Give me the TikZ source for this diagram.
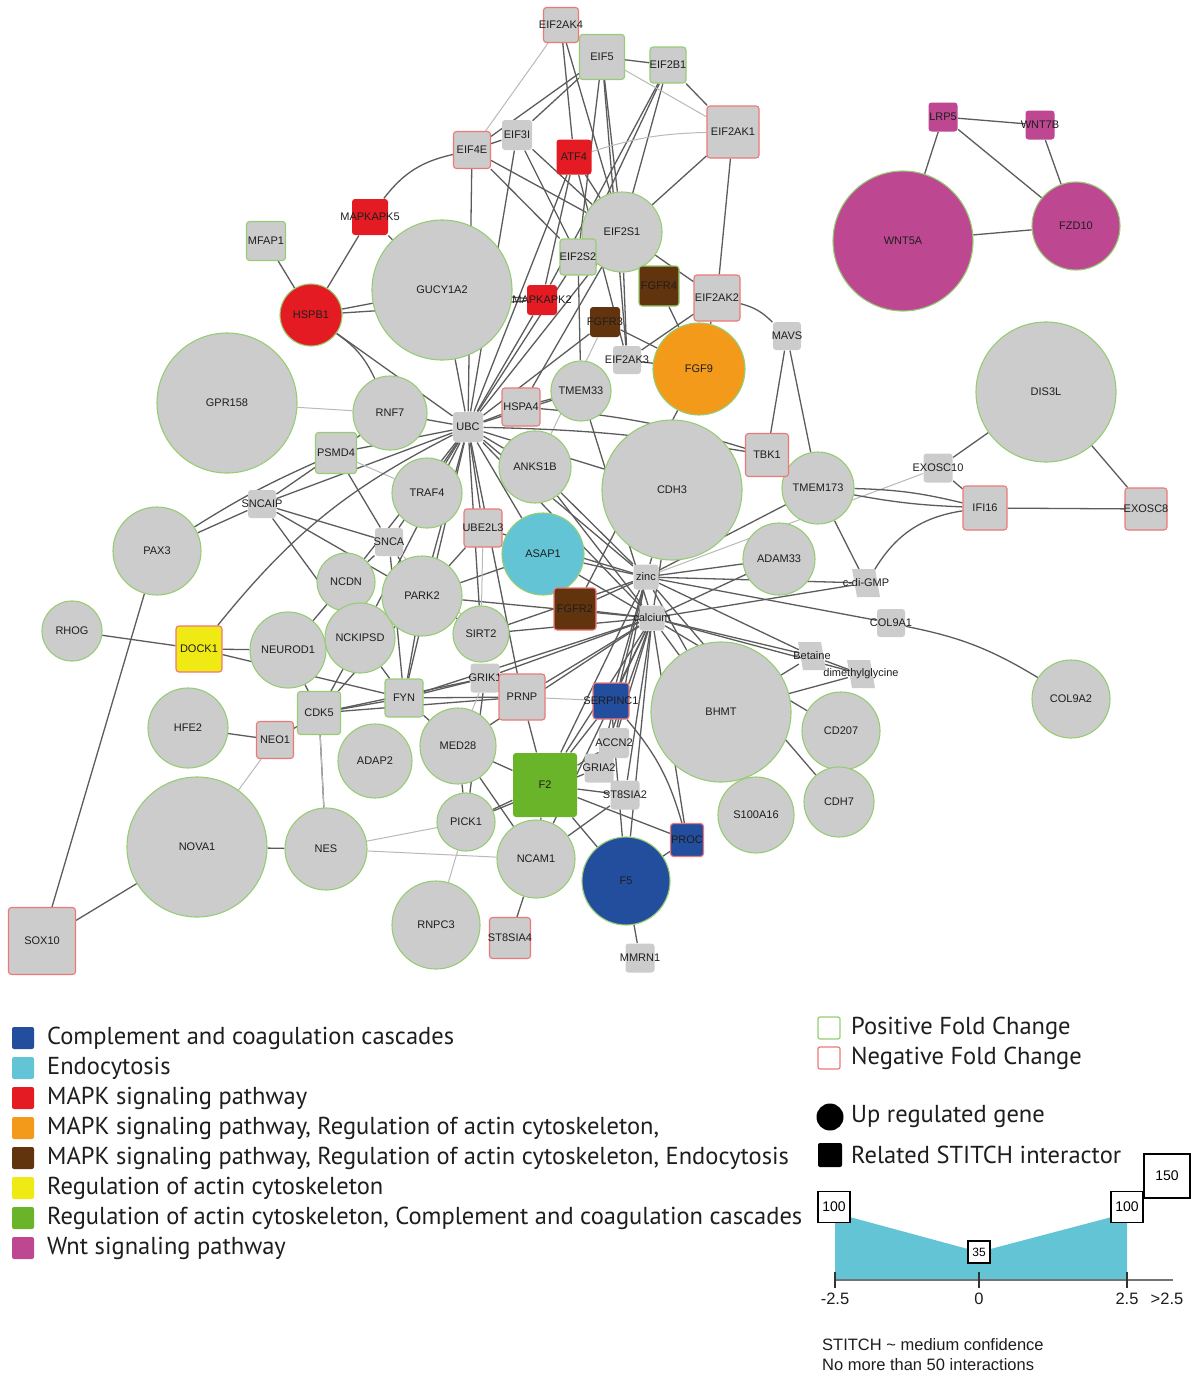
\documentclass[tikz,border=0pt]{standalone}
\usepackage{fontspec}
\setmainfont{Liberation Sans}
\newfontfamily\legendfont{PT Sans}
\usetikzlibrary{backgrounds}

\definecolor{nodegray}{RGB}{204,204,204}
\definecolor{posgreen}{RGB}{150,205,115}
\definecolor{negred}{RGB}{238,120,120}
\definecolor{edgecol}{RGB}{92,92,92}
\definecolor{edgelight}{RGB}{185,185,185}
\definecolor{ccblue}{RGB}{35,78,158}
\definecolor{endocyan}{RGB}{99,196,214}
\definecolor{mapkred}{RGB}{228,27,35}
\definecolor{mapkorange}{RGB}{243,154,26}
\definecolor{mapkbrown}{RGB}{98,52,13}
\definecolor{actinyellow}{RGB}{240,234,20}
\definecolor{actingreen}{RGB}{106,180,42}
\definecolor{wntmagenta}{RGB}{189,72,145}
\definecolor{labelgray}{RGB}{30,30,30}

% gene labels may overflow their shapes, so they take no width
\newcommand\glab[1]{\makebox[0pt][c]{#1}}

\tikzset{
  gene/.style={circle, draw=posgreen, line width=1.1pt, fill=nodegray, inner sep=0pt,
    minimum size=#1, font=\fontsize{11}{12}\selectfont, text=labelgray},
  box/.style={rectangle, rounded corners=3pt, fill=nodegray, draw=none, line width=1.1pt,
    inner sep=0pt, minimum size=#1, font=\fontsize{11}{12}\selectfont, text=labelgray},
  posfc/.style={draw=posgreen},
  negfc/.style={draw=negred},
  % small compounds: the slanted body is filled on the "bodies" layer
  cmpd/.style={rectangle, inner sep=0pt, minimum size=26,
    font=\fontsize{11}{12}\selectfont, text=labelgray},
  ed/.style={draw=edgecol, line width=1.3pt},
  edl/.style={draw=edgelight, line width=1pt},
  legsq/.style={rectangle, rounded corners=2pt, minimum size=22, inner sep=0pt},
  legtxt/.style={anchor=west, inner sep=0pt, font=\legendfont\fontsize{24.5}{26}\selectfont, text=labelgray},
  valbox/.style={rectangle, draw=black, fill=white, line width=1.3pt, inner sep=0pt,
    minimum width=32, minimum height=31, font=\fontsize{14}{15}\selectfont},
  axtxt/.style={inner sep=0pt, font=\fontsize{16.5}{17}\selectfont, text=labelgray},
}

\pgfdeclarelayer{paper}
\pgfdeclarelayer{bodies}
\pgfsetlayers{paper,background,bodies,main}

\begin{document}
\begin{tikzpicture}[x=1pt,y=-1pt]
\useasboundingbox (0,0) rectangle (1194,1376);
\begin{pgfonlayer}{paper}
  \fill[white] (0,0) rectangle (1194,1376);
\end{pgfonlayer}

% ---------- up-regulated genes (circles)
\node[gene=140] (gucy) at (442,290) {\glab{GUCY1A2}};
\node[gene=62, fill=mapkred] (hspb1) at (311,315) {\glab{HSPB1}};
\node[gene=80] (eif2s1) at (622,232) {\glab{EIF2S1}};
\node[gene=140] (gpr158) at (227,403) {\glab{GPR158}};
\node[gene=74] (rnf7) at (390,413) {\glab{RNF7}};
\node[gene=88] (pax3) at (157,551) {\glab{PAX3}};
\node[gene=60] (rhog) at (72,631) {\glab{RHOG}};
\node[gene=58] (ncdn) at (346,582) {\glab{NCDN}};
\node[gene=76] (neurod1) at (288,650) {\glab{NEUROD1}};
\node[gene=70] (nckipsd) at (360,638) {\glab{NCKIPSD}};
\node[gene=70] (traf4) at (427,493) {\glab{TRAF4}};
\node[gene=80] (park2) at (422,596) {\glab{PARK2}};
\node[gene=56] (sirt2) at (481,634) {\glab{SIRT2}};
\node[gene=72] (anks1b) at (535,467) {\glab{ANKS1B}};
\node[gene=60] (tmem33) at (581,391) {\glab{TMEM33}};
\node[gene=82, fill=endocyan] (asap1) at (543,554) {\glab{ASAP1}};
\node[gene=140] (cdh3) at (672,490) {\glab{CDH3}};
\node[gene=92, fill=mapkorange] (fgf9) at (699,369) {\glab{FGF9}};
\node[gene=72] (adam33) at (779,559) {\glab{ADAM33}};
\node[gene=72] (tmem173) at (818,488) {\glab{TMEM173}};
\node[gene=140] (dis3l) at (1046,392) {\glab{DIS3L}};
\node[gene=140, fill=wntmagenta] (wnt5a) at (903,241) {\glab{WNT5A}};
\node[gene=88, fill=wntmagenta] (fzd10) at (1076,226) {\glab{FZD10}};
\node[gene=140] (bhmt) at (721,712) {\glab{BHMT}};
\node[gene=78] (cd207) at (841,731) {\glab{CD207}};
\node[gene=70] (cdh7) at (839,802) {\glab{CDH7}};
\node[gene=78] (col9a2) at (1071,699) {\glab{COL9A2}};
\node[gene=76] (s100a16) at (756,815) {\glab{S100A16}};
\node[gene=76] (med28) at (458,746) {\glab{MED28}};
\node[gene=58] (pick1) at (466,822) {\glab{PICK1}};
\node[gene=78] (ncam1) at (536,859) {\glab{NCAM1}};
\node[gene=88, fill=ccblue] (f5) at (626,881) {\glab{F5}};
\node[gene=88] (rnpc3) at (436,925) {\glab{RNPC3}};
\node[gene=140] (nova1) at (197,847) {\glab{NOVA1}};
\node[gene=82] (nes) at (326,849) {\glab{NES}};
\node[gene=80] (hfe2) at (188,728) {\glab{HFE2}};
\node[gene=74] (adap2) at (375,761) {\glab{ADAP2}};

% ---------- STITCH interactors (squares)
\node[box=35, negfc] (eif2ak4) at (561,25) {\glab{EIF2AK4}};
\node[box=45, posfc] (eif5) at (602,57) {\glab{EIF5}};
\node[box=36, posfc] (eif2b1) at (668,65) {\glab{EIF2B1}};
\node[box=52, negfc] (eif2ak1) at (733,132) {\glab{EIF2AK1}};
\node[box=30] (eif3i) at (517,135) {\glab{EIF3I}};
\node[box=37, negfc] (eif4e) at (472,150) {\glab{EIF4E}};
\node[box=35, fill=mapkred] (atf4) at (574,157) {\glab{ATF4}};
\node[box=36, posfc] (eif2s2) at (578,257) {\glab{EIF2S2}};
\node[box=40, fill=mapkbrown, posfc] (fgfr4) at (659,286) {\glab{FGFR4}};
\node[box=46, negfc] (eif2ak2) at (717,298) {\glab{EIF2AK2}};
\node[box=30, fill=mapkred] (mapkapk2) at (542,300) {\glab{MAPKAPK2}};
\node[box=30, fill=mapkbrown] (fgfr3) at (605,322) {\glab{FGFR3}};
\node[box=36, fill=mapkred] (mapkapk5) at (370,217) {\glab{MAPKAPK5}};
\node[box=39, posfc] (mfap1) at (266,241) {\glab{MFAP1}};
\node[box=29, fill=wntmagenta] (lrp5) at (943,117) {\glab{LRP5}};
\node[box=29, fill=wntmagenta] (wnt7b) at (1040,125) {\glab{WNT7B}};
\node[box=28] (mavs) at (787,336) {\glab{MAVS}};
\node[box=28] (eif2ak3) at (627,360) {\glab{EIF2AK3}};
\node[box=38, negfc] (hspa4) at (521,407) {\glab{HSPA4}};
\node[box=30] (ubc) at (468,427) {\glab{UBC}};
\node[box=41, posfc] (psmd4) at (336,453) {\glab{PSMD4}};
\node[box=28] (sncaip) at (262,504) {\glab{SNCAIP}};
\node[box=28] (snca) at (389,542) {\glab{SNCA}};
\node[box=38, negfc] (ube2l3) at (483,528) {\glab{UBE2L3}};
\node[box=43, negfc] (tbk1) at (767,455) {\glab{TBK1}};
\node[box=42, fill=mapkbrown, negfc] (fgfr2) at (575,609) {\glab{FGFR2}};
\node[box=25] (zinc) at (646,577) {\glab{zinc}};
\node[box=25] (calcium) at (652,618) {\glab{calcium}};
\node[box=29] (exosc10) at (938,468) {\glab{EXOSC10}};
\node[box=44, negfc] (ifi16) at (985,508) {\glab{IFI16}};
\node[box=42, negfc] (exosc8) at (1146,509) {\glab{EXOSC8}};
\node[cmpd] (cdigmp) at (866,583) {\glab{c-di-GMP}};
\node[box=28] (col9a1) at (891,623) {\glab{COL9A1}};
\node[cmpd] (betaine) at (812,656) {\glab{Betaine}};
\node[cmpd] (dmg) at (861,674) {\glab{dimethylglycine}};
\node[box=46, fill=actinyellow, negfc] (dock1) at (199,649) {\glab{DOCK1}};
\node[box=43, posfc] (cdk5) at (319,713) {\glab{CDK5}};
\node[box=37, negfc] (neo1) at (275,740) {\glab{NEO1}};
\node[box=67, negfc] (sox10) at (42,941) {\glab{SOX10}};
\node[box=38, posfc] (fyn) at (404,698) {\glab{FYN}};
\node[box=29] (grik1) at (485,678) {\glab{GRIK1}};
\node[box=46, negfc] (prnp) at (522,697) {\glab{PRNP}};
\node[box=36, fill=ccblue, negfc] (serpinc1) at (611,701) {\glab{SERPINC1}};
\node[box=30] (accn2) at (614,743) {\glab{ACCN2}};
\node[box=29] (gria2) at (599,768) {\glab{GRIA2}};
\node[box=29] (st8sia2) at (625,795) {\glab{ST8SIA2}};
\node[box=64, fill=actingreen] (f2) at (545,785) {\glab{F2}};
\node[box=33, fill=ccblue, negfc] (proc) at (687,840) {\glab{PROC}};
\node[box=41, negfc] (st8sia4) at (510,938) {\glab{ST8SIA4}};
\node[box=29] (mmrn1) at (640,958) {\glab{MMRN1}};

% slanted bodies of the small compounds
\begin{pgfonlayer}{bodies}
\foreach \n in {cdigmp, betaine, dmg}
  \fill[nodegray] ([xshift=-14pt, yshift=14pt]\n.center) -- ([xshift=9pt, yshift=14pt]\n.center)
    -- ([xshift=14pt, yshift=-14pt]\n.center) -- ([xshift=-9pt, yshift=-14pt]\n.center) -- cycle;
\end{pgfonlayer}

% ---------- interactions (behind the nodes)
\begin{pgfonlayer}{background}
\foreach \a/\b in {lrp5/wnt7b, lrp5/wnt5a, lrp5/fzd10, wnt7b/fzd10, wnt5a/fzd10,
  dis3l/exosc10, dis3l/exosc8, ifi16/exosc8, exosc10/ifi16, tmem173/cdigmp, tmem173/mavs,
  tbk1/tmem173, mavs/tbk1, col9a1/zinc, betaine/bhmt, dmg/bhmt, betaine/dmg, betaine/zinc,
  betaine/calcium, dmg/calcium, cdigmp/zinc, cdigmp/calcium, cd207/calcium, cdh7/zinc,
  adam33/zinc, adam33/calcium, cdh3/zinc, cdh3/calcium, tmem173/zinc, bhmt/zinc, bhmt/calcium,
  eif2ak4/eif5, eif2ak4/eif2s1, eif2ak4/atf4,
  eif5/eif2b1, eif5/eif3i, eif5/eif4e, eif5/eif2s1, eif5/eif2s2, eif5/eif2ak3,
  eif2b1/eif2ak1, eif2b1/eif2s1, eif2b1/eif2s2, eif2b1/mapkapk2,
  eif2ak1/eif2s1, eif2ak1/eif2ak2,
  eif3i/eif4e, eif3i/eif2s1, eif3i/eif2s2, eif3i/ubc,
  eif4e/eif2s1, eif4e/eif2s2, eif4e/ubc,
  atf4/eif2s1, atf4/mapkapk2, atf4/ubc, atf4/eif2ak3,
  eif2s1/eif2s2, eif2s1/eif2ak2, eif2s1/eif2ak3, eif2s1/ubc, eif2s1/fgfr4,
  eif2ak2/fgf9, eif2ak2/eif2ak3,
  mapkapk5/hspb1, mapkapk5/gucy, mfap1/hspb1, hspb1/gucy, hspb1/ubc, hspb1/mapkapk2,
  gucy/ubc, gucy/mapkapk2,
  rnf7/ubc, psmd4/ubc, psmd4/rnf7, psmd4/snca, psmd4/sncaip, pax3/sncaip,
  sncaip/ubc, sncaip/snca, sncaip/park2, sncaip/nckipsd,
  snca/ubc, snca/park2, snca/ncdn, snca/fyn,
  dock1/rhog, dock1/neurod1, dock1/fyn,
  ncdn/neurod1, ncdn/ubc, nckipsd/park2, nckipsd/ubc, nckipsd/fyn,
  traf4/ubc, park2/ubc, park2/sirt2, park2/fyn, park2/cdk5, park2/ube2l3, park2/calcium,
  sirt2/ubc, sirt2/calcium, sirt2/zinc, ube2l3/ubc, ube2l3/zinc,
  cdk5/fyn, cdk5/nes, cdk5/neo1, cdk5/neurod1, cdk5/nckipsd, cdk5/grik1, cdk5/prnp,
  fyn/ubc, fyn/prnp, fyn/grik1, fyn/calcium, fyn/med28,
  neo1/hfe2, nova1/nes, nova1/sox10, sox10/pax3,
  med28/f2, med28/ncam1, med28/pick1, med28/calcium,
  pick1/f2, pick1/grik1, pick1/gria2,
  prnp/f2, prnp/calcium, prnp/grik1, prnp/ubc,
  f2/serpinc1, f2/proc, f2/f5, f2/ncam1, f2/calcium, f2/zinc, f2/st8sia2, f2/accn2,
  f5/proc, f5/mmrn1, f5/calcium, f5/serpinc1, proc/calcium,
  ncam1/st8sia4, ncam1/st8sia2, ncam1/calcium,
  st8sia2/calcium, gria2/calcium, accn2/calcium, serpinc1/calcium, serpinc1/zinc,
  grik1/calcium, gria2/zinc, accn2/zinc,
  fgf9/fgfr4, fgf9/fgfr3, fgf9/fgfr2, fgf9/eif2ak3,
  fgfr2/asap1, fgfr2/zinc, fgfr2/calcium,
  asap1/zinc, asap1/calcium, asap1/ubc, asap1/park2,
  anks1b/ubc, anks1b/zinc, anks1b/calcium,
  tmem33/ubc, tmem33/eif2s2, tmem33/hspa4, tmem33/calcium,
  hspa4/ubc, hspa4/eif2s1,
  ubc/cdh3, ubc/zinc, ubc/calcium, ubc/mapkapk2, ubc/eif2s2, ubc/fgfr3}
  \draw[ed] (\a) -- (\b);

\foreach \a/\b in {eif2ak4/eif4e, eif5/eif2ak1, gpr158/rnf7, neo1/nova1, nes/pick1,
  nes/ncam1, rnpc3/pick1, prnp/serpinc1, cdk5/nes, exosc10/zinc, snca/sirt2,
  ube2l3/sirt2, anks1b/fgfr3, grik1/med28, psmd4/traf4}
  \draw[edl] (\a) -- (\b);

% curved interactions
\draw[ed] (tmem173) to[bend left=6] (ifi16);
\draw[ed] (tmem173) to[bend right=4] (ifi16);
\draw[ed] (cdigmp) to[bend left=25] (ifi16);
\draw[ed] (col9a1) to[bend left=10] (col9a2);
\draw[ed] (mavs) to[bend right=15] (eif2ak2);
\draw[ed] (eif4e) to[bend right=20] (mapkapk5);
\draw[ed] (dock1) to[bend left=12] (ubc);
\draw[ed] (hspb1) to[bend left=15] (rnf7);
\draw[ed] (ubc) to[bend left=4] (tbk1);
\draw[ed] (hspa4) to[bend left=6] (tbk1);
\draw[ed] (pax3) to[bend left=4] (psmd4);
\draw[edl] (eif2ak1) to[bend right=8] (atf4);
\draw[ed] (proc) to[bend right=12] (serpinc1);
\end{pgfonlayer}

% ---------- pathway legend
\foreach \i/\c/\t in {0/ccblue/Complement and coagulation cascades,
  1/endocyan/Endocytosis,
  2/mapkred/MAPK signaling pathway,
  3/mapkorange/{MAPK signaling pathway, Regulation of actin cytoskeleton,},
  4/mapkbrown/{MAPK signaling pathway, Regulation of actin cytoskeleton, Endocytosis},
  5/actinyellow/Regulation of actin cytoskeleton,
  6/actingreen/{Regulation of actin cytoskeleton, Complement and coagulation cascades},
  7/wntmagenta/Wnt signaling pathway} {
  \node[legsq, fill=\c] (lsq\i) at (23,1038+30*\i) {};
  \node[legtxt] (ltx\i) at (47,1038+30*\i) {\t};
}

% ---------- shape / border legend
\node[legsq, draw=posgreen, line width=1.2pt, fill=white] (lpos) at (829,1028) {};
\node[legtxt] (tpos) at (851,1028) {Positive Fold Change};
\node[legsq, draw=negred, line width=1.2pt, fill=white] (lneg) at (829,1058) {};
\node[legtxt] (tneg) at (851,1058) {Negative Fold Change};
\node[circle, fill=black, minimum size=27, inner sep=0pt] (lup) at (830,1117) {};
\node[legtxt] (tup) at (851,1117) {Up regulated gene};
\node[legsq, fill=black, minimum size=24] (lsti) at (830,1155) {};
\node[legtxt] (tsti) at (851,1155) {Related STITCH interactor};

% ---------- interaction-count scale
\fill[endocyan] (835,1280) -- (835,1213) -- (979,1252) -- (1127,1213) -- (1127,1280) -- cycle;
\draw[line width=1.3pt, black!55] (835,1280) -- (1173,1280);
\foreach \x in {835,979,1127} \draw[line width=1.5pt, black!80] (\x,1272) -- (\x,1288);
\node[valbox] (vleft) at (834,1207) {100};
\node[valbox] (vright) at (1127,1207) {100};
\node[valbox, minimum width=46, minimum height=44] (vmax) at (1167,1176) {150};
\node[valbox, minimum width=22, minimum height=22, font=\fontsize{12}{13}\selectfont] (vmid) at (979,1252) {35};
\node[axtxt] (tk1) at (835,1299) {-2.5};
\node[axtxt] (tk2) at (979,1299) {0};
\node[axtxt] (tk3) at (1127,1299) {2.5};
\node[axtxt] (tk4) at (1167,1299) {>2.5};
\node[axtxt, anchor=west] (note1) at (822,1345) {STITCH \textasciitilde{} medium confidence};
\node[axtxt, anchor=west] (note2) at (822,1365) {No more than 50 interactions};
\end{tikzpicture}
\end{document}
